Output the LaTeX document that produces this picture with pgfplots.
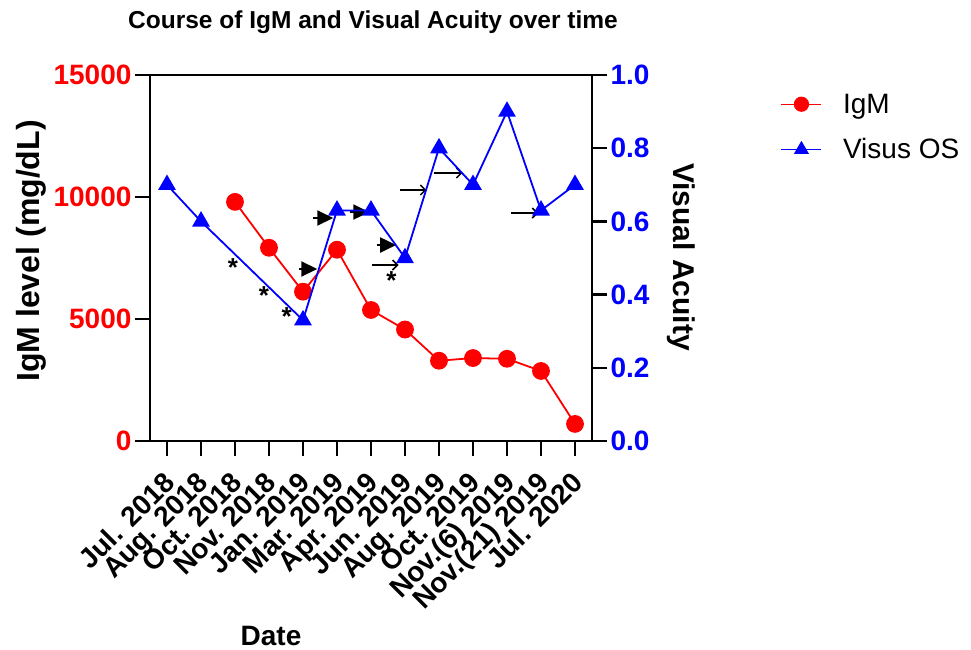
\documentclass[border=0pt]{standalone}
\usepackage{pgfplots}
\pgfplotsset{compat=1.18}
\usepackage{fontspec}
\setmainfont{Liberation Sans}
\usetikzlibrary{arrows.meta}

\definecolor{igm}{RGB}{255,0,0}
\definecolor{vis}{RGB}{0,0,255}

\pgfplotsset{
  common/.style={
    scale only axis, width=442pt, height=366pt,
    xmin=-0.5, xmax=12.5,
    axis line style={line width=2.5pt},
    tick style={line width=2.5pt, black},
    major tick length=15pt,
    tick align=outside,
    scaled y ticks=false,
  },
  igmline/.style={igm, line width=1.8pt, mark=*, mark size=8pt, mark options={solid, fill=igm, draw=igm}},
  visline/.style={vis, line width=1.8pt, mark=triangle*, mark size=8.5pt, mark options={solid, fill=vis, draw=vis}},
}

\begin{document}
\begin{tikzpicture}
\path[use as bounding box] (-150pt,-209pt) rectangle (821pt,441pt);

% left axis: IgM
\begin{axis}[
  common,
  ymin=0, ymax=15000,
  tick pos=left,
  xtick={0,...,12},
  xticklabels={Jul. 2018, Aug. 2018, Oct. 2018, Nov. 2018, Jan. 2019, Mar. 2019,
    Apr. 2019, Jun. 2019, Aug. 2019, Oct. 2019, Nov.(6) 2019, Nov.(21) 2019, Jul. 2020},
  x tick label style={xshift=-5pt, yshift=-14pt, rotate=45, anchor=north east, inner sep=0pt,
    font=\fontsize{28}{28}\selectfont\bfseries},
  ytick={0,5000,10000,15000},
  yticklabels={0,5000,10000,15000},
  y tick label style={igm, font=\fontsize{28}{28}\selectfont\bfseries},
]
\addplot[igmline] coordinates {
  (2,9800) (3,7920) (4,6120) (5,7840) (6,5370) (7,4570)
  (8,3290) (9,3400) (10,3370) (11,2870) (12,700)
};
% annotations
\node[anchor=base, font=\fontsize{26}{26}\selectfont\bfseries] at (axis cs:1.94,6760) {*};
\node[anchor=base, font=\fontsize{26}{26}\selectfont\bfseries] at (axis cs:2.85,5610) {*};
\node[anchor=base, font=\fontsize{26}{26}\selectfont\bfseries] at (axis cs:3.52,4750) {*};
\node[anchor=base, font=\fontsize{26}{26}\selectfont\bfseries] at (axis cs:6.60,6190) {*};
\draw[line width=2pt, -{Triangle[length=16pt,width=15pt]}] (axis cs:3.88,7049) -- (axis cs:4.42,7049);
\draw[line width=2pt, -{Triangle[length=16pt,width=15pt]}] (axis cs:4.29,9139) -- (axis cs:4.89,9139);
\draw[line width=2pt, -{Triangle[length=16pt,width=15pt]}] (axis cs:5.38,9384) -- (axis cs:5.95,9384);
\draw[line width=2pt, -{Triangle[length=16pt,width=15pt]}] (axis cs:6.17,8032) -- (axis cs:6.74,8032);
\draw[line width=1.5pt, -{Straight Barb[length=5pt,width=10pt]}] (axis cs:6.02,7212) -- (axis cs:6.81,7212);
\draw[line width=1.5pt, -{Straight Barb[length=5pt,width=10pt]}] (axis cs:6.84,10286) -- (axis cs:7.63,10286);
\draw[line width=1.5pt, -{Straight Barb[length=5pt,width=10pt]}] (axis cs:7.86,10983) -- (axis cs:8.69,10983);
\draw[line width=1.5pt, -{Straight Barb[length=5pt,width=10pt]}] (axis cs:10.12,9343) -- (axis cs:10.92,9343);
\end{axis}

% right axis: visual acuity
\begin{axis}[
  common,
  axis x line=none,
  axis y line*=right,
  ymin=0, ymax=1,
  ytick={0,0.2,0.4,0.6,0.8,1},
  yticklabels={0.0,0.2,0.4,0.6,0.8,1.0},
  y tick label style={vis, font=\fontsize{28}{28}\selectfont\bfseries},
  legend style={draw=none, at={(rel axis cs:1.42,0.96)}, anchor=north west,
    font=\fontsize{28}{28}\selectfont, row sep=20pt, column sep=19pt,
    nodes={inner sep=2pt}},
  legend cell align=left,
  legend image code/.code={
    \draw[mark repeat=2, mark phase=2, line width=1.2pt]
      plot coordinates {(0pt,0pt) (20pt,0pt) (40pt,0pt)};},
]
\addlegendimage{igmline, mark size=7pt}
\addlegendentry{IgM}
\addplot[visline, forget plot] coordinates {
  (0,0.70) (1,0.60) (4,0.33) (5,0.63) (6,0.63) (7,0.50)
  (8,0.80) (9,0.70) (10,0.90) (11,0.63) (12,0.70)
};
\addlegendimage{visline, mark size=7.5pt}
\addlegendentry{Visus OS}
\end{axis}

\node[anchor=base, font=\fontsize{24.5}{24.5}\selectfont\bfseries] at (223pt,412pt) {Course of IgM and Visual Acuity over time};
\node[rotate=90, anchor=base, font=\fontsize{32}{32}\selectfont\bfseries] at (-110pt,190pt) {IgM level (mg/dL)};
\node[rotate=-90, anchor=base, font=\fontsize{30}{30}\selectfont\bfseries] at (523pt,184pt) {Visual Acuity};
\node[anchor=base, font=\fontsize{28}{28}\selectfont\bfseries] at (121pt,-204pt) {Date};
\end{tikzpicture}
\end{document}
